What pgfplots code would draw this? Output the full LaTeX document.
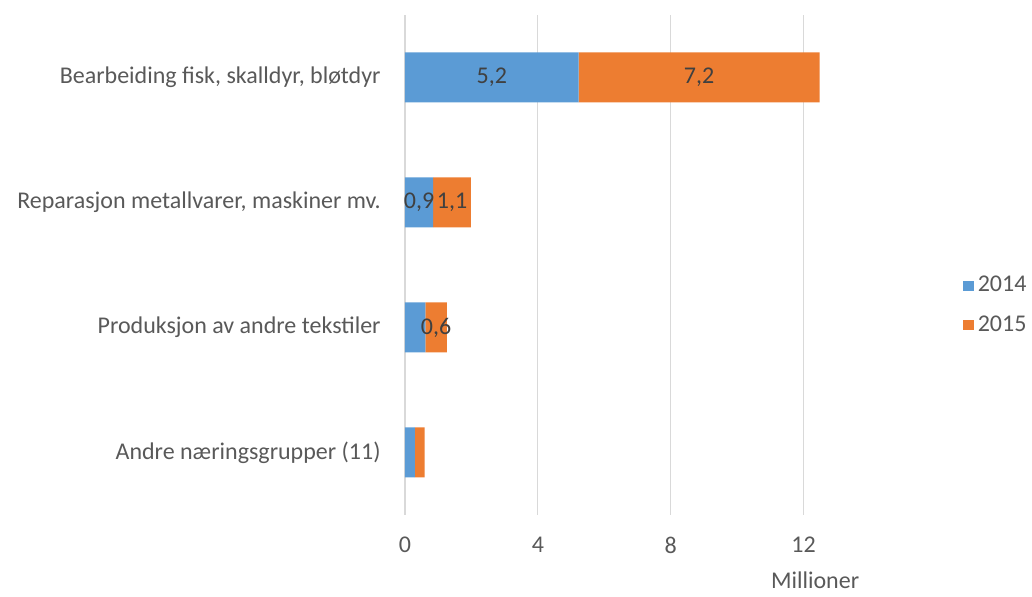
\documentclass[border=0pt]{standalone}
\usepackage{fontspec}
\setmainfont{Carlito}
\usepackage{pgfplots}
\pgfplotsset{compat=1.18}
\usetikzlibrary{calc}
\definecolor{c14}{HTML}{5B9BD5}
\definecolor{c15}{HTML}{ED7D31}
\definecolor{txt}{HTML}{595959}
\definecolor{lbl}{HTML}{404040}
\definecolor{grd}{HTML}{D9D9D9}
\newcommand{\f}{\fontsize{12}{14}\selectfont}
\begin{document}
\f
\begin{tikzpicture}
\begin{axis}[
    name=ax,
    scale only axis,
    width=232.5pt, height=250pt,
    xbar stacked,
    bar width=25pt,
    xmin=0, xmax=14,
    ymin=-0.5, ymax=3.5,
    xtick={0,4,8,12},
    ytick={0,1,2,3},
    yticklabels={{Andre næringsgrupper (11)},{Produksjon av andre tekstiler},{Reparasjon metallvarer, maskiner mv.},{Bearbeiding fisk, skalldyr, bløtdyr}},
    xmajorgrids,
    grid style={grd, line width=0.6pt},
    axis line style={draw=none},
    major tick length=0pt,
    /pgf/number format/assume math mode=true,
    tick label style={font=\f, text=txt},
    xticklabel shift=7pt,
    yticklabel shift=8pt,
    xlabel={Millioner},
    xlabel style={at={(axis description cs:0.882,-0.13)}, anchor=center, font=\f, text=txt},
    nodes near coords,
    point meta=explicit symbolic,
    every node near coord/.append style={anchor=center, inner sep=0pt, font=\f, text=lbl},
    legend style={at={(rel axis cs:1.2,0.419)}, anchor=west, draw=none, fill=none, inner sep=0pt, row sep=6pt, font=\f, text=txt},
    legend cell align=left,
    legend image code/.code={\fill[#1] (0pt,-2.6pt) rectangle (5.2pt,2.6pt);},
    clip=false,
]
\addplot[fill=c14, draw=none] coordinates {(5.23,3) [{5,2}] (0.85,2) [{0,9}] (0.61,1) [{}] (0.30,0) [{}]};
\addplot[fill=c15, draw=none] coordinates {(7.25,3) [{7,2}] (1.13,2) [{1,1}] (0.65,1) [{0,6}] (0.29,0) [{}]};
\legend{2014,2015}
\end{axis}
\path ($(ax.south west)+(-202.5pt,-39pt)$) rectangle ($(ax.north east)+(81pt,7.5pt)$);
\end{tikzpicture}
\end{document}
